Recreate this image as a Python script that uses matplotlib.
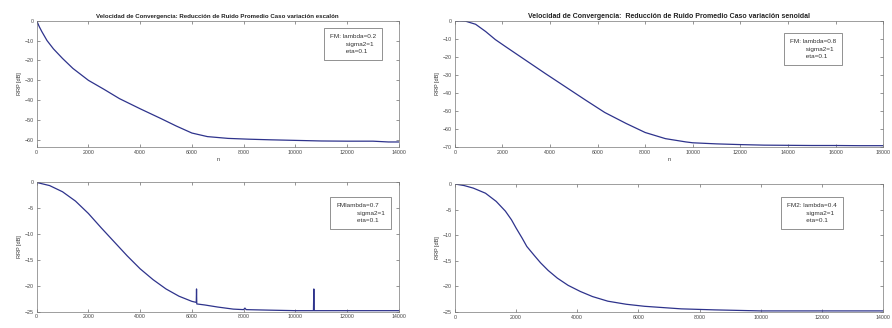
import matplotlib
matplotlib.use('Agg')
import matplotlib.pyplot as plt

plt.rcParams['font.family'] = ['Liberation Sans', 'DejaVu Sans']

# escalon, lambda=0.2
x_tl = [0, 100, 200, 400, 650, 1000, 1400, 2000, 2600, 3200, 4000, 4800, 5400,
        6000, 6600, 7400, 8200, 9000, 10000, 11000, 12000, 13000, 13600, 14000]
y_tl = [0, -3, -5.5, -10, -14.2, -19, -24, -30, -34.5, -39.2, -44.3, -49.2, -53,
        -56.5, -58.3, -59.2, -59.6, -59.9, -60.2, -60.5, -60.6, -60.6, -61, -61]

# senoidal, lambda=0.8
x_tr = [0, 450, 870, 1290, 1700, 2130, 2970, 3800, 4650, 5500, 6300, 7200, 8000,
        8850, 9700, 10000, 11000, 12000, 13000, 14000, 15000, 16000, 17000, 18000]
y_tr = [0, -0.3, -2, -6, -10.5, -14.4, -21.9, -29.3, -36.7, -44.1, -50.9, -57, -62,
        -65.4, -67.2, -67.7, -68.3, -68.7, -69, -69.1, -69.2, -69.2, -69.3, -69.3]

# escalon, lambda=0.7 (con picos)
x_bl = [0, 500, 1000, 1500, 2000, 2500, 3000, 3500, 4000, 4500, 5000, 5500, 6000,
        6170, 6180, 6190, 6500, 7000, 7600, 8000, 8050, 8100, 9000, 10000, 10700,
        10715, 10730, 11000, 12000, 13000, 14000]
y_bl = [0, -0.6, -1.8, -3.6, -6, -8.8, -11.5, -14.2, -16.7, -18.8, -20.6, -22, -23,
        -23.2, -20.6, -23.5, -23.7, -24.1, -24.5, -24.6, -24.3, -24.6, -24.7, -24.8, -24.8,
        -20.6, -24.8, -24.8, -24.8, -24.8, -24.8]

# senoidal, lambda=0.4
x_br = [0, 300, 600, 1000, 1350, 1650, 1850, 2000, 2200, 2350, 2600, 2800, 3050, 3350,
        3700, 4100, 4500, 5000, 5600, 6200, 7400, 8500, 10000, 11000, 12000, 13000, 14000]
y_br = [0, -0.3, -0.8, -1.8, -3.4, -5.3, -7, -8.6, -10.6, -12.2, -14, -15.4, -16.9, -18.4,
        -19.8, -21, -22, -22.9, -23.5, -23.9, -24.4, -24.6, -24.8, -24.8, -24.8, -24.8, -24.8]

titles = ['Velocidad de Convergencia: Reducción de Ruido Promedio Caso variación escalón',
          'Velocidad de Convergencia:  Reducción de Ruido Promedio Caso variación senoidal']
legends = ['FM: lambda=0.2\n         sigma2=1\n         eta=0.1',
           'FM: lambda=0.8\n         sigma2=1\n         eta=0.1',
           'FMlambda=0.7\n            sigma2=1\n            eta=0.1',
           'FM2: lambda=0.4\n           sigma2=1\n           eta=0.1']
# esquina superior izquierda del texto de cada cuadro (fraccion de ejes)
legend_pos = [(0.81, 0.895), (0.783, 0.855), (0.827, 0.84), (0.776, 0.852)]

fig = plt.figure(figsize=(8.92, 3.28), dpi=100)
ax_tl = fig.add_axes([0.0411, 0.552, 0.406, 0.385])
ax_tr = fig.add_axes([0.510, 0.552, 0.480, 0.385])
ax_bl = fig.add_axes([0.0411, 0.0497, 0.406, 0.394])
ax_br = fig.add_axes([0.510, 0.049, 0.480, 0.390])

panels = [
    (ax_tl, x_tl, y_tl, (0, 14000), (-63.5, 0), range(0, 14001, 2000), range(-60, 1, 10)),
    (ax_tr, x_tr, y_tr, (0, 18000), (-70, 0), range(0, 18001, 2000), range(-70, 1, 10)),
    (ax_bl, x_bl, y_bl, (0, 14000), (-25, 0), range(0, 14001, 2000), range(-25, 1, 5)),
    (ax_br, x_br, y_br, (0, 14000), (-25, 0), range(0, 14001, 2000), range(-25, 1, 5)),
]

for i, (ax, xs, ys, xl, yl, xt, yt) in enumerate(panels):
    ax.plot(xs, ys, color='#2e338c', lw=0.9)
    ax.set_xlim(*xl)
    ax.set_ylim(*yl)
    ax.set_xticks(list(xt))
    ax.set_yticks(list(yt))
    ax.tick_params(direction='in', length=2, width=0.4, labelsize=3.8,
                   colors='#444444', top=True, right=True, pad=2)
    for s in ax.spines.values():
        s.set_linewidth(0.5)
        s.set_color('#777777')
    ax.set_ylabel('RRP [dB]', fontsize=4, color='#333333', labelpad=2)
    lx, ly = legend_pos[i]
    ax.text(lx, ly, legends[i], transform=ax.transAxes, ha='left', va='top',
            multialignment='left', fontsize=4.6, color='#333333', linespacing=1.65,
            bbox=dict(boxstyle='square,pad=0.9', fc='white', ec='#666666', lw=0.5))

ax_tl.set_xlabel('n', fontsize=4, color='#333333', labelpad=2)
ax_tr.set_xlabel('n', fontsize=4, color='#333333', labelpad=2)
ax_tl.set_title(titles[0], fontsize=4.4, fontweight='bold', color='#222222', pad=2)
ax_tr.set_title(titles[1], fontsize=5.0, fontweight='bold', color='#222222', pad=2)

fig.savefig('out.png', dpi=100)
